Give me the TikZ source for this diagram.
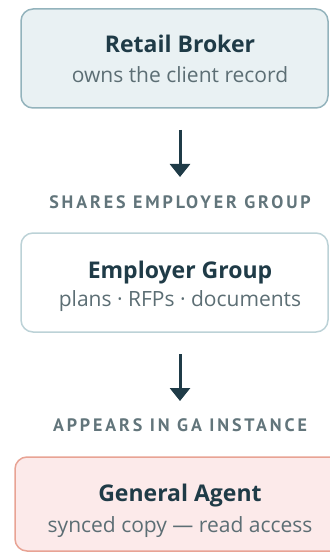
\documentclass[tikz,border=0pt]{standalone}
\usepackage{fontspec}
\setmainfont{Open Sans}
\newfontfamily\labfont[LetterSpace=16]{PT Sans}
\usetikzlibrary{arrows.meta}
\definecolor{ink}{HTML}{1F3B47}
\definecolor{subgray}{HTML}{5C6E74}
\definecolor{labgray}{HTML}{62757B}
\definecolor{b1fill}{HTML}{E9F1F3}
\definecolor{b1line}{HTML}{93B3BC}
\definecolor{b2line}{HTML}{BCD2D7}
\definecolor{b3fill}{HTML}{FCEAEA}
\definecolor{b3line}{HTML}{E8A394}
\tikzset{
  card/.style={rounded corners=12pt, line width=1.5pt},
  ttl/.style={anchor=base, text=ink, font=\fontsize{23}{27}\selectfont\bfseries, inner sep=0pt},
  sub/.style={anchor=base, text=subgray, font=\fontsize{21}{25}\selectfont, inner sep=0pt},
  lab/.style={anchor=base, text=labgray, font=\labfont\fontsize{18}{21}\selectfont\bfseries, inner sep=0pt},
  flow/.style={draw=ink, line width=3pt, -{Triangle[width=20pt,length=13pt]}}
}
\begin{document}
\begin{tikzpicture}[x=1pt,y=-1pt]
\useasboundingbox (0,0) rectangle (329,553);
\draw[card, fill=b1fill, draw=b1line] (21,9) rectangle (328,108);
\node[ttl] (t1) at (180,53) {Retail Broker};
\node[sub] (s1) at (180,83) {owns the client record};
\draw[card, fill=white, draw=b2line] (21,233) rectangle (328,332);
\node[ttl] (t2) at (180,278) {Employer Group};
\node[sub] (s2) at (180,306) {plans · RFPs · documents};
\draw[card, fill=b3fill, draw=b3line] (15,457) rectangle (345,551);
\node[ttl] (t3) at (180,501) {General Agent};
\node[sub] (s3) at (180,532) {synced copy — read access};
\node[lab] (l1) at (180,208) {SHARES EMPLOYER GROUP};
\node[lab] (l2) at (180,431) {APPEARS IN GA INSTANCE};
\coordinate (a1s) at (180,130);
\coordinate (a1e) at (180,177);
\coordinate (a2s) at (180,354);
\coordinate (a2e) at (180,401);
\draw[flow] (a1s) -- (a1e);
\draw[flow] (a2s) -- (a2e);
\end{tikzpicture}
\end{document}
